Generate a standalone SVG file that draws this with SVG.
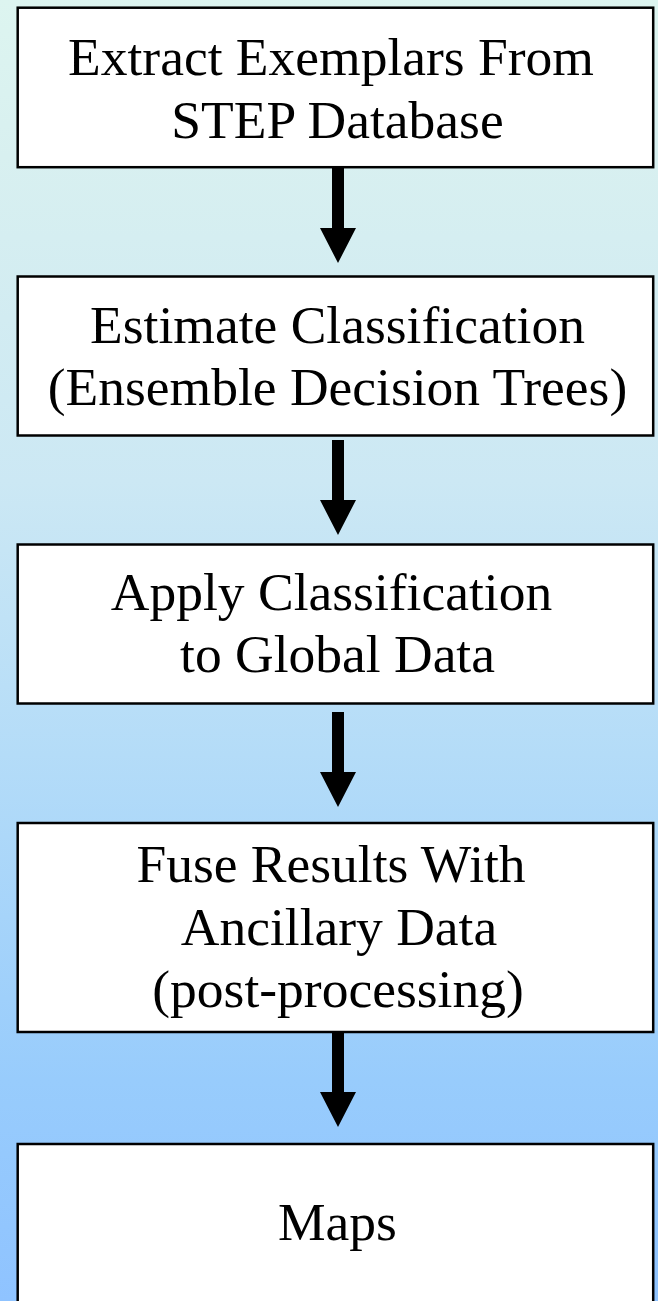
<svg xmlns="http://www.w3.org/2000/svg" width="658" height="1301" viewBox="0 0 658 1301">
<defs>
<linearGradient id="bg" x1="0" y1="0" x2="0" y2="1">
<stop offset="0" stop-color="#ddf5f0"/>
<stop offset="0.12" stop-color="#d8f0f0"/>
<stop offset="0.37" stop-color="#cce8f4"/>
<stop offset="0.58" stop-color="#b4dcf8"/>
<stop offset="0.83" stop-color="#98ccfc"/>
<stop offset="1" stop-color="#8fc3ff"/>
</linearGradient>
<style>
.box{fill:#ffffff;stroke:#000000;stroke-width:2.5}
.lbl{font-family:"Liberation Serif","Times New Roman",serif;font-size:53.5px;fill:#000000;text-anchor:middle}
.shaft{fill:#000000}
</style>
</defs>
<rect x="0" y="0" width="658" height="1301" fill="url(#bg)"/>
<g id="connectors">
<path class="shaft" d="M332,168 H344 V228 H356 L338,263 L320,228 H332 Z"/>
<path class="shaft" d="M332,440 H344 V500 H356 L338,535 L320,500 H332 Z"/>
<path class="shaft" d="M332,712 H344 V772 H356 L338,807 L320,772 H332 Z"/>
<path class="shaft" d="M332,1033 H344 V1092 H356 L338,1127 L320,1092 H332 Z"/>
</g>
<g id="node1">
<rect class="box" x="17.7" y="7.7" width="635.5" height="159.5"/>
<text class="lbl" x="331" y="75">Extract Exemplars From</text>
<text class="lbl" x="337.5" y="138">STEP Database</text>
</g>
<g id="node2">
<rect class="box" x="17.7" y="276.5" width="635.5" height="159"/>
<text class="lbl" x="337.5" y="343">Estimate Classification</text>
<text class="lbl" x="337.5" y="405">(Ensemble Decision Trees)</text>
</g>
<g id="node3">
<rect class="box" x="17.7" y="544.5" width="635.5" height="159"/>
<text class="lbl" x="331.5" y="610">Apply Classification</text>
<text class="lbl" x="337.5" y="672">to Global Data</text>
</g>
<g id="node4">
<rect class="box" x="17.7" y="823" width="635.5" height="209"/>
<text class="lbl" x="331" y="882">Fuse Results With</text>
<text class="lbl" x="339" y="945">Ancillary Data</text>
<text class="lbl" x="338" y="1007">(post-processing)</text>
</g>
<g id="node5">
<rect class="box" x="17.7" y="1144" width="635.5" height="170"/>
<text class="lbl" x="337.5" y="1240">Maps</text>
</g>
</svg>
